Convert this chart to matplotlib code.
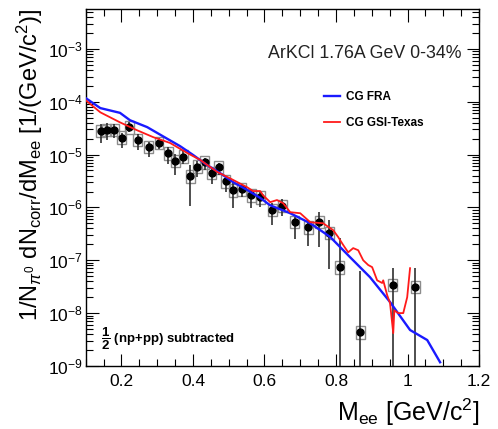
import numpy as np
import matplotlib
matplotlib.use("Agg")
import matplotlib.pyplot as plt
from matplotlib.patches import Rectangle
from matplotlib.ticker import LogLocator, MultipleLocator, NullFormatter, FixedLocator

plt.rcParams.update(
    {
        "font.family": ["Liberation Sans", "DejaVu Sans"],
        "mathtext.fontset": "custom",
        "mathtext.rm": "Liberation Sans",
        "mathtext.it": "Liberation Sans:italic",
        "mathtext.bf": "Liberation Sans:bold",
    }
)

# measured points
m_ee = [0.142, 0.159, 0.180, 0.201, 0.222, 0.246, 0.276, 0.305, 0.331, 0.351,
        0.373, 0.393, 0.412, 0.433, 0.453, 0.472, 0.492, 0.512, 0.536, 0.563,
        0.588, 0.622, 0.650, 0.684, 0.722, 0.753, 0.781, 0.811, 0.868, 0.958, 1.021]
dn_dm = [2.8e-5, 2.9e-5, 2.9e-5, 2.1e-5, 3.3e-5, 1.9e-5, 1.4e-5, 1.65e-5, 1.05e-5, 7.6e-6,
         9.2e-6, 3.9e-6, 5.9e-6, 7.1e-6, 4.5e-6, 5.7e-6, 3.1e-6, 2.1e-6, 2.2e-6, 1.7e-6,
         1.55e-6, 8.9e-7, 1.06e-6, 5.3e-7, 4.2e-7, 5.3e-7, 3.3e-7, 7.3e-8, 4.3e-9, 3.4e-8, 3.1e-8]
# stat. errors in decades (inf = down to the axis)
err_up_dex = [0.13, 0.13, 0.11, 0.09, 0.09, 0.11, 0.09, 0.09, 0.13, 0.13,
              0.11, 0.21, 0.11, 0.09, 0.11, 0.09, 0.11, 0.15, 0.11, 0.11,
              0.11, 0.13, 0.13, 0.09, 0.13, 0.19, 0.25, 0.55, 1.17, 0.32, 0.36]
err_dn_dex = [0.23, 0.19, 0.15, 0.19, 0.09, 0.19, 0.19, 0.11, 0.19, 0.27,
              0.15, 0.57, 0.19, 0.15, 0.21, 0.15, 0.19, 0.34, 0.15, 0.25,
              0.19, 0.28, 0.19, 0.32, 0.36, 0.47, 0.68, np.inf, np.inf, np.inf, np.inf]
sys_dex = 0.12

# CG FRA
fra_m = [0.100, 0.141, 0.196, 0.224, 0.272, 0.328, 0.364, 0.401, 0.440, 0.476,
         0.512, 0.552, 0.588, 0.616, 0.672, 0.728, 0.784, 0.839, 0.895, 0.951,
         1.007, 1.055, 1.091]
fra_log = [-3.93, -4.12, -4.21, -4.35, -4.48, -4.70, -4.84, -5.01, -5.20, -5.35,
           -5.52, -5.67, -5.82, -5.96, -6.11, -6.30, -6.56, -6.94, -7.32, -7.79,
           -8.32, -8.51, -8.93]

# CG GSI-Texas
gsi_m = [0.100, 0.141, 0.196, 0.244, 0.289, 0.336, 0.384, 0.420, 0.468, 0.504,
         0.552, 0.568, 0.588, 0.596, 0.616, 0.635, 0.652, 0.672, 0.700, 0.728,
         0.764, 0.792, 0.806, 0.820, 0.834, 0.848, 0.862, 0.876, 0.890, 0.901,
         0.915, 0.929, 0.932, 0.943, 0.951, 0.960, 0.963, 0.974, 0.988, 0.999, 1.007]
gsi_log = [-3.97, -4.20, -4.39, -4.54, -4.67, -4.78, -4.97, -5.10, -5.33, -5.45,
           -5.62, -5.69, -5.69, -5.77, -5.90, -5.86, -5.92, -6.09, -6.11, -6.28,
           -6.30, -6.43, -6.56, -6.71, -6.85, -6.77, -6.81, -7.00, -7.09, -7.13,
           -7.38, -7.43, -7.38, -7.66, -7.81, -8.38, -7.95, -8.00, -8.00, -7.70, -7.15]

fig = plt.figure(figsize=(4.98, 4.29), dpi=100)
ax = fig.add_axes([0.172, 0.147, 0.790, 0.833])

x = np.array(m_ee)
y = np.array(dn_dm)
hi = y * 10 ** np.array(err_up_dex)
lo = np.maximum(y * 10 ** (-np.array(err_dn_dex)), 1e-10)

for xi, yi in zip(x, y):
    ax.add_patch(Rectangle((xi - 0.0125, yi * 10 ** -sys_dex), 0.025,
                           yi * (10 ** sys_dex - 10 ** -sys_dex),
                           fill=False, ec="#8c8c8c", lw=1.0, zorder=2))
ax.vlines(x, lo, hi, color="#303030", lw=1.2, zorder=3)
ax.plot(x, y, "o", color="black", ms=5, zorder=4)

ax.plot(fra_m, 10 ** np.array(fra_log), color="#1a1aff", lw=1.7, zorder=5, label="CG FRA")
ax.plot(gsi_m, 10 ** np.array(gsi_log), color="#ff1a1a", lw=1.3, zorder=5, label="CG GSI-Texas")

ax.set_yscale("log")
ax.set_xlim(0.1, 1.2)
ax.set_ylim(1e-9, 5.8e-3)

ax.xaxis.set_major_locator(MultipleLocator(0.2))
ax.xaxis.set_minor_locator(MultipleLocator(0.05))
ax.yaxis.set_major_locator(FixedLocator([1e-9, 1e-8, 1e-7, 1e-6, 1e-5, 1e-4, 1e-3]))
ax.yaxis.set_minor_locator(LogLocator(base=10, subs=np.arange(2, 10), numticks=20))
ax.yaxis.set_minor_formatter(NullFormatter())
ax.xaxis.set_major_formatter(plt.FuncFormatter(lambda v, p: f"{v:g}"))
ax.tick_params(which="both", direction="in", top=True, right=True, labelsize=12.5, width=0.8)
ax.tick_params(which="major", length=9)
ax.tick_params(which="minor", length=5)
ax.tick_params(axis="x", pad=6)
ax.tick_params(axis="y", pad=2)
for s in ax.spines.values():
    s.set_linewidth(1.0)

ax.set_xlabel(r"M$_{\rm ee}$ [GeV/c$^2$]", fontsize=18, loc="right", labelpad=5)
ax.set_ylabel(r"1/N$_{\pi^0}$ dN$_{\rm corr}$/dM$_{\rm ee}$ [1/(GeV/c$^2$)]", fontsize=17,
              loc="top", labelpad=2)

ax.text(0.955, 0.875, "ArKCl 1.76A GeV 0-34%", transform=ax.transAxes,
        ha="right", va="center", fontsize=12.8, color="#222222")

ax.legend(loc="upper left", bbox_to_anchor=(0.58, 0.80), frameon=False,
          prop={"weight": "bold", "size": 8.5}, handlelength=1.3, handletextpad=0.5,
          labelspacing=1.2)

ax.text(0.04, 0.075, r"$\mathbf{\dfrac{1}{2}}$ (np+pp) subtracted", transform=ax.transAxes,
        ha="left", va="center", fontsize=9.5, fontweight="bold")

fig.savefig("out.png", dpi=100)
